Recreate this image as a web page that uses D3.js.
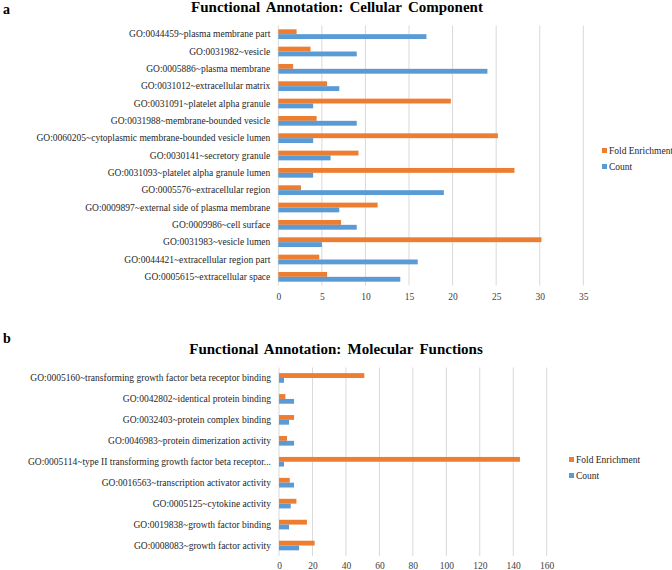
<!DOCTYPE html>
<html><head><meta charset="utf-8">
<script src="https://cdn.jsdelivr.net/npm/d3@7"></script>
<style>body{margin:0;background:#fff}svg{display:block}</style>
</head><body>
<svg id="c" width="672" height="570"></svg>
<script>
// Chart a: Cellular Component
const ccCategories = [
  "GO:0044459~plasma membrane part",
  "GO:0031982~vesicle",
  "GO:0005886~plasma membrane",
  "GO:0031012~extracellular matrix",
  "GO:0031091~platelet alpha granule",
  "GO:0031988~membrane-bounded vesicle",
  "GO:0060205~cytoplasmic membrane-bounded vesicle lumen",
  "GO:0030141~secretory granule",
  "GO:0031093~platelet alpha granule lumen",
  "GO:0005576~extracellular region",
  "GO:0009897~external side of plasma membrane",
  "GO:0009986~cell surface",
  "GO:0031983~vesicle lumen",
  "GO:0044421~extracellular region part",
  "GO:0005615~extracellular space"
];
const ccFold  = [2.1, 3.7, 1.7, 5.6, 19.8, 4.4, 25.2, 9.2, 27.1, 2.6, 11.4, 7.2, 30.2, 4.7, 5.6];
const ccCount = [17, 9, 24, 7, 4, 9, 4, 6, 4, 19, 7, 9, 5, 16, 14];
const ccTicks = [0, 5, 10, 15, 20, 25, 30, 35];

// Chart b: Molecular Functions
const mfCategories = [
  "GO:0005160~transforming growth factor beta receptor binding",
  "GO:0042802~identical protein binding",
  "GO:0032403~protein complex binding",
  "GO:0046983~protein dimerization activity",
  "GO:0005114~type II transforming growth factor beta receptor...",
  "GO:0016563~transcription activator activity",
  "GO:0005125~cytokine activity",
  "GO:0019838~growth factor binding",
  "GO:0008083~growth factor activity"
];
const mfFold  = [51, 3.8, 9, 4.8, 144, 6.4, 10.4, 16.7, 21.3];
const mfCount = [3, 9, 6, 9, 3, 9, 7, 6, 12];
const mfTicks = [0, 20, 40, 60, 80, 100, 120, 140, 160];

const seriesNames = ["Fold Enrichment", "Count"];
const colors = {"Fold Enrichment": "#ED7D31", "Count": "#5B9BD5"};

const svg = d3.select("#c");
const serif = "'Liberation Serif','Times New Roman',serif";

function drawChart(o) {
  const g = svg.append("g");
  g.append("text").attr("x", 3).attr("y", o.letterY).text(o.letter)
    .attr("font-family", serif).attr("font-weight", "bold").attr("font-size", 14).attr("fill", "#000");
  g.append("text").attr("x", o.titleX).attr("y", o.titleY).attr("text-anchor", "middle")
    .text(o.title).attr("font-family", serif).attr("font-weight", "bold")
    .attr("font-size", 15).attr("word-spacing", 2.5).attr("fill", "#000");

  const x = d3.scaleLinear().domain([0, o.max]).range([o.x0, o.x1]);
  const y = d3.scaleBand().domain(o.cats).range([o.y0, o.y1]).padding(0);

  g.append("g").selectAll("line").data(o.ticks).join("line")
    .attr("x1", d => x(d)).attr("x2", d => x(d))
    .attr("y1", o.y0).attr("y2", o.y1)
    .attr("stroke", "#d9d9d9").attr("stroke-width", 1);

  const bh = y.bandwidth() * o.barFrac;
  const rows = o.cats.map((c, i) => ({c, fold: o.fold[i], count: o.count[i]}));
  const rg = g.append("g").selectAll("g").data(rows).join("g")
    .attr("transform", d => `translate(0,${y(d.c) + y.bandwidth() / 2})`);
  rg.append("rect").attr("x", x(0)).attr("y", -bh)
    .attr("width", d => x(d.fold) - x(0)).attr("height", bh)
    .attr("fill", colors["Fold Enrichment"]);
  rg.append("rect").attr("x", x(0)).attr("y", 0)
    .attr("width", d => x(d.count) - x(0)).attr("height", bh)
    .attr("fill", colors["Count"]);

  const yAxis = d3.axisLeft(y).tickSize(0).tickPadding(0);
  const ya = g.append("g").attr("transform", `translate(${o.x0 - 8},0)`).call(yAxis);
  ya.select(".domain").remove();
  ya.attr("font-family", serif);
  ya.selectAll("text").attr("font-family", serif).attr("font-size", o.labelSize).attr("fill", "#262626");

  const xAxis = d3.axisBottom(x).tickValues(o.ticks).tickSize(0).tickPadding(0).tickFormat(d3.format("d"));
  const xa = g.append("g").attr("transform", `translate(0,${o.tickY})`).call(xAxis);
  xa.select(".domain").remove();
  xa.attr("font-family", serif);
  xa.selectAll("text").attr("font-family", serif).attr("font-size", 9.5).attr("fill", "#404040")
    .attr("dy", "0.35em");

  const lg = g.append("g").selectAll("g").data(seriesNames).join("g")
    .attr("transform", (d, i) => `translate(${o.legX},${o.legY + i * 16})`);
  lg.append("rect").attr("x", 0).attr("y", -3).attr("width", 5).attr("height", 5)
    .attr("fill", d => colors[d]);
  lg.append("text").attr("x", 7).attr("y", 0).attr("dy", "0.35em").text(d => d)
    .attr("font-family", serif).attr("font-size", 9.5).attr("fill", "#262626");
}

drawChart({
  letter: "a", letterY: 14, title: "Functional Annotation: Cellular Component", titleX: 337, titleY: 12,
  cats: ccCategories, fold: ccFold, count: ccCount, ticks: ccTicks, max: 35,
  x0: 278.3, x1: 583.3, y0: 25.5, y1: 285.5, barFrac: 0.28, labelSize: 9.5,
  tickY: 297, legX: 602, legY: 151
});

drawChart({
  letter: "b", letterY: 343, title: "Functional Annotation: Molecular Functions", titleX: 336, titleY: 354,
  cats: mfCategories, fold: mfFold, count: mfCount, ticks: mfTicks, max: 160,
  x0: 279, x1: 546.7, y0: 367.5, y1: 556, barFrac: 0.23, labelSize: 9.5,
  tickY: 566, legX: 569, legY: 460
});
</script>
</body></html>
